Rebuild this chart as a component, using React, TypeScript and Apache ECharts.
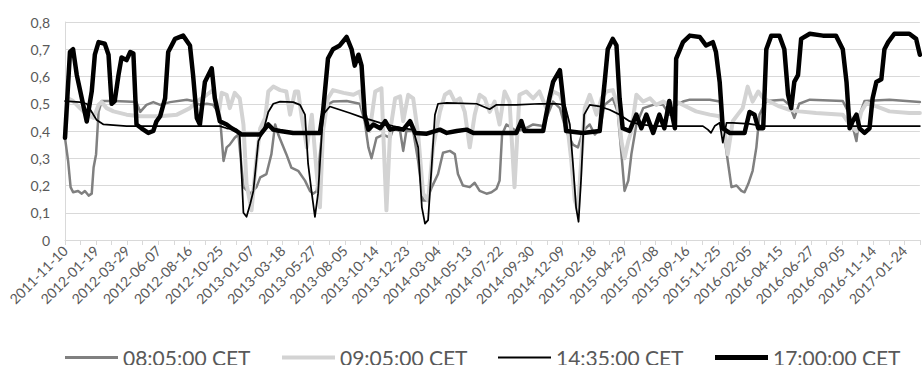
import React, { useEffect, useRef } from 'react';
import * as echarts from 'echarts';

// Category labels: one every 50 trading days (index 0, 50, 100, ...)
const tickLabels = [
  '2011-11-10', '2012-01-19', '2012-03-29', '2012-06-07', '2012-08-16', '2012-10-25',
  '2013-01-07', '2013-03-18', '2013-05-27', '2013-08-05', '2013-10-14', '2013-12-23',
  '2014-03-04', '2014-05-13', '2014-07-22', '2014-09-30', '2014-12-09', '2015-02-18',
  '2015-04-29', '2015-07-08', '2015-09-16', '2015-11-25', '2016-02-05', '2016-04-15',
  '2016-06-27', '2016-09-05', '2016-11-14', '2017-01-24',
];
const totalDays = 1375;

const seriesNames = ['08:05:00 CET', '09:05:00 CET', '14:35:00 CET', '17:00:00 CET'];

// [trading-day index, value]
const s0805: [number, number][] = [
  [0, 0.375], [5, 0.29], [9, 0.194], [13, 0.175], [21, 0.18], [27, 0.17], [32, 0.18], [38, 0.163], [43, 0.17],
  [46, 0.266], [50, 0.315], [54, 0.47], [59, 0.51], [78, 0.51], [99, 0.508], [115, 0.506], [121, 0.47],
  [131, 0.496], [142, 0.506], [153, 0.496], [169, 0.506], [196, 0.515], [206, 0.51], [217, 0.496], [228, 0.5],
  [238, 0.496], [249, 0.46], [255, 0.29], [260, 0.34], [265, 0.35], [273, 0.375], [279, 0.387], [287, 0.194],
  [298, 0.17], [308, 0.194], [314, 0.23], [324, 0.242], [332, 0.315], [338, 0.424], [343, 0.387], [356, 0.315],
  [364, 0.266], [375, 0.254], [386, 0.218], [394, 0.18], [399, 0.17], [405, 0.18], [410, 0.315], [415, 0.424],
  [421, 0.496], [431, 0.508], [453, 0.51], [474, 0.5], [482, 0.436], [488, 0.34], [493, 0.3], [501, 0.375],
  [512, 0.387], [523, 0.375], [528, 0.41], [539, 0.4], [544, 0.327], [549, 0.4], [560, 0.4], [568, 0.29],
  [576, 0.145], [582, 0.145], [590, 0.194], [600, 0.242], [608, 0.32], [619, 0.327], [627, 0.315], [632, 0.242],
  [640, 0.2], [651, 0.194], [659, 0.21], [667, 0.18], [678, 0.17], [686, 0.175], [694, 0.188], [699, 0.218],
  [703, 0.387], [710, 0.424], [726, 0.4], [737, 0.405], [753, 0.424], [769, 0.418], [785, 0.508], [796, 0.484],
  [806, 0.4], [817, 0.35], [825, 0.34], [833, 0.4], [844, 0.424], [852, 0.387], [860, 0.405], [868, 0.496],
  [881, 0.52], [889, 0.47], [895, 0.315], [900, 0.18], [906, 0.218], [911, 0.315], [919, 0.424], [930, 0.484],
  [946, 0.496], [962, 0.496], [972, 0.46], [983, 0.496], [994, 0.508], [1005, 0.515], [1037, 0.515],
  [1053, 0.508], [1058, 0.424], [1066, 0.29], [1072, 0.194], [1080, 0.2], [1088, 0.18], [1093, 0.175],
  [1099, 0.206], [1106, 0.254], [1112, 0.34], [1117, 0.46], [1128, 0.51], [1155, 0.515], [1165, 0.496],
  [1173, 0.448], [1181, 0.5], [1198, 0.515], [1251, 0.51], [1262, 0.46], [1273, 0.363], [1278, 0.46],
  [1286, 0.51], [1326, 0.515], [1353, 0.51], [1375, 0.506],
];

const s0905: [number, number][] = [
  [0, 0.375], [5, 0.52], [13, 0.51], [24, 0.484], [35, 0.46], [46, 0.448], [54, 0.496], [59, 0.506], [67, 0.484],
  [78, 0.472], [99, 0.46], [121, 0.454], [153, 0.454], [180, 0.46], [201, 0.484], [212, 0.508], [228, 0.533],
  [238, 0.55], [247, 0.46], [252, 0.54], [260, 0.533], [265, 0.484], [273, 0.54], [281, 0.52], [287, 0.424],
  [292, 0.206], [300, 0.109], [308, 0.3], [314, 0.41], [322, 0.448], [327, 0.545], [335, 0.563], [346, 0.55],
  [356, 0.545], [362, 0.46], [370, 0.545], [375, 0.545], [381, 0.448], [389, 0.34], [397, 0.46], [405, 0.242],
  [410, 0.12], [415, 0.4], [423, 0.52], [431, 0.55], [448, 0.54], [464, 0.533], [474, 0.545], [482, 0.46],
  [490, 0.4], [499, 0.545], [509, 0.557], [517, 0.109], [523, 0.4], [531, 0.52], [539, 0.527], [544, 0.436],
  [552, 0.533], [560, 0.52], [568, 0.387], [576, 0.17], [584, 0.145], [592, 0.34], [603, 0.47], [611, 0.533],
  [619, 0.545], [627, 0.508], [635, 0.52], [643, 0.47], [651, 0.34], [659, 0.46], [667, 0.533], [675, 0.52],
  [683, 0.47], [691, 0.508], [699, 0.424], [707, 0.545], [715, 0.508], [723, 0.194], [731, 0.533], [742, 0.545],
  [753, 0.52], [763, 0.545], [774, 0.484], [785, 0.545], [796, 0.533], [806, 0.46], [814, 0.3], [820, 0.145],
  [825, 0.109], [830, 0.28], [836, 0.484], [844, 0.533], [855, 0.46], [863, 0.52], [871, 0.545], [881, 0.55],
  [889, 0.496], [895, 0.363], [900, 0.3], [906, 0.363], [911, 0.4], [919, 0.533], [930, 0.508], [941, 0.52],
  [951, 0.496], [962, 0.508], [972, 0.496], [983, 0.508], [999, 0.49], [1015, 0.472], [1037, 0.46],
  [1053, 0.454], [1061, 0.4], [1066, 0.315], [1074, 0.436], [1082, 0.46], [1090, 0.484], [1098, 0.563],
  [1106, 0.508], [1115, 0.545], [1123, 0.52], [1133, 0.508], [1149, 0.49], [1165, 0.478], [1181, 0.472],
  [1208, 0.466], [1251, 0.46], [1262, 0.424], [1273, 0.4], [1281, 0.472], [1289, 0.503], [1305, 0.49],
  [1326, 0.472], [1358, 0.466], [1375, 0.466],
];

const s1435: [number, number][] = [
  [0, 0.51], [24, 0.506], [35, 0.5], [43, 0.47], [51, 0.44], [62, 0.424], [99, 0.418], [206, 0.418], [249, 0.418],
  [260, 0.41], [276, 0.405], [281, 0.387], [287, 0.1], [292, 0.085], [298, 0.133], [303, 0.18], [311, 0.363],
  [319, 0.4], [327, 0.47], [335, 0.5], [346, 0.508], [367, 0.506], [378, 0.496], [386, 0.46], [391, 0.28],
  [397, 0.17], [402, 0.085], [407, 0.17], [415, 0.46], [426, 0.49], [442, 0.478], [458, 0.466], [480, 0.448],
  [490, 0.442], [507, 0.43], [528, 0.418], [544, 0.41], [560, 0.405], [568, 0.34], [574, 0.12], [579, 0.06],
  [584, 0.073], [590, 0.28], [595, 0.46], [600, 0.5], [614, 0.503], [662, 0.5], [683, 0.48], [694, 0.496],
  [726, 0.496], [763, 0.5], [790, 0.5], [804, 0.496], [812, 0.424], [817, 0.28], [822, 0.12], [826, 0.067],
  [830, 0.22], [835, 0.46], [844, 0.496], [860, 0.49], [876, 0.478], [892, 0.46], [908, 0.436], [924, 0.424],
  [951, 0.418], [1026, 0.418], [1034, 0.405], [1039, 0.393], [1045, 0.418], [1053, 0.43], [1058, 0.357],
  [1064, 0.43], [1074, 0.43], [1101, 0.426], [1123, 0.418], [1375, 0.418],
];

const s1700: [number, number][] = [
  [0, 0.375], [8, 0.69], [13, 0.7], [19, 0.605], [27, 0.52], [35, 0.435], [43, 0.545], [48, 0.68], [54, 0.726],
  [64, 0.72], [70, 0.68], [75, 0.5], [80, 0.51], [86, 0.605], [91, 0.67], [99, 0.66], [105, 0.69], [110, 0.684],
  [115, 0.424], [123, 0.41], [134, 0.393], [142, 0.4], [147, 0.435], [153, 0.454], [161, 0.52], [166, 0.69],
  [177, 0.738], [190, 0.75], [201, 0.714], [206, 0.605], [212, 0.448], [217, 0.424], [225, 0.58], [236, 0.63],
  [241, 0.52], [249, 0.436], [260, 0.424], [268, 0.41], [276, 0.4], [284, 0.387], [314, 0.387], [322, 0.41],
  [327, 0.424], [335, 0.405], [346, 0.4], [367, 0.393], [410, 0.393], [415, 0.47], [423, 0.666], [431, 0.7],
  [442, 0.714], [453, 0.745], [461, 0.7], [466, 0.64], [472, 0.68], [477, 0.64], [482, 0.46], [488, 0.405],
  [496, 0.424], [507, 0.41], [515, 0.436], [523, 0.405], [533, 0.41], [544, 0.405], [555, 0.436], [563, 0.393],
  [582, 0.39], [603, 0.405], [614, 0.393], [630, 0.4], [646, 0.405], [657, 0.393], [726, 0.393], [734, 0.436],
  [739, 0.4], [769, 0.4], [779, 0.52], [785, 0.58], [796, 0.623], [801, 0.52], [806, 0.4], [833, 0.393],
  [860, 0.4], [868, 0.58], [873, 0.7], [881, 0.738], [887, 0.714], [892, 0.52], [897, 0.41], [908, 0.4],
  [919, 0.46], [927, 0.41], [935, 0.46], [946, 0.393], [956, 0.46], [964, 0.41], [972, 0.51], [981, 0.41],
  [983, 0.666], [994, 0.726], [1005, 0.75], [1021, 0.745], [1031, 0.714], [1042, 0.726], [1047, 0.69],
  [1053, 0.58], [1058, 0.41], [1069, 0.393], [1093, 0.393], [1101, 0.47], [1109, 0.46], [1115, 0.41],
  [1123, 0.41], [1128, 0.7], [1136, 0.75], [1149, 0.75], [1157, 0.7], [1163, 0.533], [1168, 0.484], [1173, 0.58],
  [1179, 0.605], [1184, 0.738], [1198, 0.757], [1219, 0.75], [1240, 0.75], [1251, 0.7], [1257, 0.58],
  [1262, 0.41], [1267, 0.436], [1273, 0.46], [1278, 0.41], [1286, 0.393], [1294, 0.41], [1299, 0.52],
  [1305, 0.58], [1313, 0.59], [1318, 0.7], [1324, 0.726], [1334, 0.757], [1358, 0.757], [1369, 0.738],
  [1375, 0.68],
];

const seriesData = [s0805, s0905, s1435, s1700];

const FONT = 'Lato';
const TXT = '#595959';
const GRID = '#d9d9d9';

export default function App() {
  const ref = useRef<HTMLDivElement>(null);
  useEffect(() => {
    if (!ref.current) return;
    const chart = echarts.init(ref.current, undefined, { renderer: 'svg' });
    const colors = ['#808080', '#d3d3d3', '#000000', '#000000'];
    const widths = [2.5, 4, 1.75, 4.5];
    const legendLeft = [65, 282, 498, 715];
    const legendH = [3, 4, 2, 5];
    chart.setOption({
      animation: false,
      textStyle: { fontFamily: FONT },
      grid: { left: 65, right: 2, top: 22, bottom: 125, containLabel: false },
      xAxis: {
        type: 'value',
        min: 0,
        max: totalDays,
        interval: 25,
        axisLine: { show: true, lineStyle: { color: GRID, width: 1 } },
        axisTick: { show: true, length: 5, lineStyle: { color: GRID } },
        splitLine: { show: false },
        axisLabel: {
          rotate: 45,
          margin: 8,
          color: TXT,
          fontFamily: FONT,
          fontSize: 14,
          formatter: (v: number) => (v % 50 === 0 && tickLabels[v / 50] ? tickLabels[v / 50] : ''),
        },
      },
      yAxis: {
        type: 'value',
        min: 0,
        max: 0.8,
        interval: 0.1,
        axisLine: { show: true, lineStyle: { color: GRID } },
        axisTick: { show: false },
        splitLine: { show: true, lineStyle: { color: GRID, width: 1 } },
        axisLabel: {
          margin: 15,
          color: TXT,
          fontFamily: FONT,
          fontSize: 14,
          formatter: (v: number) => (v === 0 ? '0' : v.toFixed(1).replace('.', ',')),
        },
      },
      legend: seriesNames.map((n, i) => ({
        data: [n],
        left: legendLeft[i],
        top: 347,
        padding: 0,
        icon: 'rect',
        itemWidth: 53,
        itemHeight: legendH[i],
        textStyle: { color: TXT, fontFamily: FONT, fontSize: 21, lineHeight: 17 },
      })),
      series: seriesNames.map((n, i) => ({
        name: n,
        type: 'line',
        data: seriesData[i],
        showSymbol: false,
        symbol: 'none',
        color: colors[i],
        lineStyle: { color: colors[i], width: widths[i], cap: 'round', join: 'round' },
        z: 2 + i,
      })),
    });
    return () => chart.dispose();
  }, []);
  return (
    <div
      ref={ref}
      style={{ position: 'fixed', left: 0, top: 0, width: 922, height: 365, background: '#fff' }}
    />
  );
}
